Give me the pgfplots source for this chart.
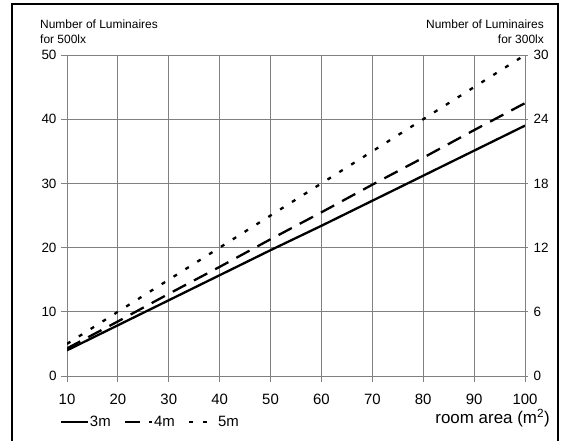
\documentclass[border=0pt]{standalone}
\usepackage{pgfplots}
\pgfplotsset{compat=1.18}
\usepackage{fontspec}
\setmainfont{Liberation Sans}
\definecolor{gridgray}{RGB}{128,128,128}
\begin{document}
\begin{tikzpicture}[x=1bp,y=1bp]
\useasboundingbox (0,0) rectangle (565,441);
\fill[white] (0,0) rectangle (565,441);
\draw[black, line width=1.5bp] (12,-5) -- (12,437) -- (558,437) -- (558,-5);
\begin{axis}[
  at={(67bp,65bp)}, anchor=south west, scale only axis,
  width=458bp, height=321bp,
  xmin=10, xmax=100, ymin=0, ymax=50,
  xtick={10,20,...,100}, ytick={0,10,...,50},
  xtick pos=bottom, ytick pos=left,
  grid=major, grid style={gridgray, line width=0.8bp},
  axis line style={gridgray, line width=0.8bp},
  tick style={gridgray, line width=0.8bp},
  tick align=outside, major tick length=6bp,
  /pgf/number format/assume math mode=true,
  xticklabel style={font=\fontsize{15}{17}\selectfont, yshift=-8.5bp},
  yticklabel style={font=\fontsize{13.5}{16}\selectfont, xshift=-1bp},
  legend columns=-1,
  legend style={at={(-0.0153,-0.1424)}, anchor=west, draw=none, fill=none,
    inner sep=0pt, font=\fontsize{15}{17}\selectfont,
    nodes={inner sep=0.5bp},
    /tikz/every even column/.append style={column sep=13bp}},
  legend image code/.code={\draw[#1] (0bp,0bp) -- (27bp,0bp);},
]
\addplot[black, line width=2.3bp] coordinates {
(10,4.0) (20,7.9) (30,11.8) (40,15.7) (50,19.6) (60,23.4) (70,27.3) (80,31.2) (90,35.1) (100,39.0)};
\addlegendentry{3m}
\addplot[black, line width=2.3bp, dash pattern=on 15bp off 9bp] coordinates {
(10,4.3) (20,8.5) (30,12.8) (40,17.0) (50,21.3) (60,25.5) (70,29.8) (80,34.0) (90,38.3) (100,42.5)};
\addlegendentry{4m}
\addplot[black, line width=2.3bp, dash pattern=on 4bp off 10bp] coordinates {
(10,5) (20,10) (30,15) (40,20) (50,25) (60,30) (70,35) (80,40) (90,45) (100,50)};
\addlegendentry{5m}
\end{axis}
\begin{axis}[
  at={(67bp,65bp)}, anchor=south west, scale only axis,
  width=458bp, height=321bp,
  xmin=10, xmax=100, ymin=0, ymax=30,
  ytick={0,6,...,30},
  axis y line*=right, hide x axis,
  axis line style={gridgray, line width=0.8bp},
  tick style={gridgray, line width=0.8bp},
  tick align=outside, major tick length=3bp,
  /pgf/number format/assume math mode=true,
  yticklabel style={font=\fontsize{13.5}{16}\selectfont, xshift=2bp},
]
\end{axis}
\node[anchor=base west, inner sep=0pt, font=\fontsize{12}{14}\selectfont] at (40,412.5) {Number of Luminaires};
\node[anchor=base west, inner sep=0pt, font=\fontsize{12}{14}\selectfont] at (40,397.5) {for 500lx};
\node[anchor=base east, inner sep=0pt, font=\fontsize{12}{14}\selectfont] at (544,412.5) {Number of Luminaires};
\node[anchor=base east, inner sep=0pt, font=\fontsize{12}{14}\selectfont] at (544,397.5) {for 300lx};
\node[anchor=base east, inner sep=0pt, font=\fontsize{17}{20}\selectfont] at (550,17) {room area (m\textsuperscript{2})};
\end{tikzpicture}
\end{document}
